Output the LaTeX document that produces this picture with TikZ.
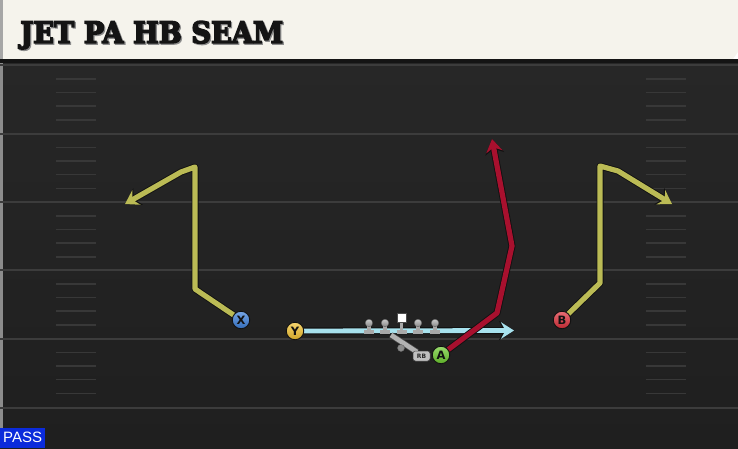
\documentclass[tikz,border=0pt]{standalone}
\usepackage{fontspec}
\setmainfont{DejaVu Sans}
\newfontfamily\titlefont{DejaVu Serif}[BoldFeatures={FakeBold=5}]
\newfontfamily\passfont{Liberation Sans}
\newfontfamily\plfont{DejaVu Sans}
\usetikzlibrary{arrows.meta}
\definecolor{fieldtop}{HTML}{272727}
\definecolor{fieldbot}{HTML}{1F1F1F}
\definecolor{yardc}{HTML}{3C3C3C}
\definecolor{hashc}{HTML}{383838}
\definecolor{headbg}{HTML}{F5F3EC}
\definecolor{passblue}{HTML}{0B2BDB}
\definecolor{routey}{HTML}{BBBB55}
\definecolor{router}{HTML}{A8102E}
\definecolor{routec}{HTML}{A8E2EE}
\definecolor{outl}{HTML}{111111}
\definecolor{pblue}{HTML}{3B7FDA}
\definecolor{pyellow}{HTML}{F2C230}
\definecolor{pred}{HTML}{DE2F3A}
\definecolor{pgreen}{HTML}{6CCB2E}
\definecolor{olgray}{HTML}{A8A8A8}
\pgfdeclarelayer{fieldlayer}
\pgfdeclarelayer{routelayer}
\pgfsetlayers{fieldlayer,routelayer,main}
\tikzset{
  yard/.style={draw=yardc, line width=2pt},
  hash/.style={draw=hashc, line width=1.8pt},
  player/.style={circle, draw=outl, line width=0.9pt, minimum size=17.5pt, inner sep=0pt,
    font=\plfont\bfseries\fontsize{11.5}{11.5}\selectfont, text=outl},
  under/.style={draw=outl, line width=7pt, line join=round, line cap=round},
  yroute/.style={draw=routey, line width=5.2pt, line join=round, line cap=round},
  rroute/.style={draw=router, line width=5.2pt, line join=round, line cap=round},
  croute/.style={draw=routec, line width=4.8pt, line join=round},
  bigtip/.style={-{Stealth[length=15pt,width=19pt,inset=5pt]}},
  smalltip/.style={-{Stealth[length=13pt,width=16.5pt,inset=4.5pt]}},
  helmet/.style={circle, top color=olgray!60!white, bottom color=olgray!80!black, draw=black!60, line width=0.4pt, minimum size=7.5pt, inner sep=0pt},
  stem/.style={draw=olgray, line width=3.5pt},
  bar/.style={draw=olgray, line width=3.5pt},
}
\begin{document}
\begin{tikzpicture}[x=1pt,y=-1pt]
\useasboundingbox (0,0) rectangle (738,448);
\begin{pgfonlayer}{fieldlayer}
  \shade[top color=fieldtop, bottom color=fieldbot] (0,60) rectangle (738,448);
  \fill[black!45] (0,60) rectangle (2.5,448);
  \foreach \y in {65,133.5,202,270,338.5,408} \draw[yard] (0,\y) -- (738,\y);
  \foreach \y in {65,133.5,202,270,338.5} {
    \foreach \d in {14,27.5,41,55} {
      \draw[hash] (56,\y+\d) -- (96,\y+\d);
      \draw[hash] (646,\y+\d) -- (686,\y+\d);
    }
  }
  % header
  \fill[headbg] (3,0) -- (738,0) -- (738,52) -- (733,59) -- (3,59) -- cycle;
  \fill[black!35] (0,0) rectangle (3,59);
  \fill[black!92] (0,59) rectangle (738,63);
\end{pgfonlayer}

\node[anchor=base west, inner sep=0pt, text=black!45] (titleshadow) at (21.2,44.2)
  {\resizebox{263pt}{22pt}{\titlefont\bfseries JET PA HB SEAM}};
\node[anchor=base west, inner sep=0pt, text=black!92] (title) at (20,43)
  {\resizebox{263pt}{22pt}{\titlefont\bfseries JET PA HB SEAM}};

% players
\node[player, top color=pblue!70!white, bottom color=pblue!85!black] (X) at (241,320) {X};
\node[player, top color=pyellow!70!white, bottom color=pyellow!85!black] (Y) at (295,331) {Y};
\node[player, top color=pred!70!white, bottom color=pred!85!black] (B) at (562,320) {B};
\node[player, top color=pgreen!70!white, bottom color=pgreen!85!black] (A) at (441,355) {A};

% free ends
\coordinate (xa) at (195,289);
\coordinate (xb) at (195,167);
\coordinate (xc) at (181,172);
\coordinate (xend) at (125,204);
\coordinate (ba) at (600,283);
\coordinate (bb) at (600,166);
\coordinate (bc) at (618,171);
\coordinate (bend) at (672,204);
\coordinate (aa) at (497,313);
\coordinate (ab) at (512,246);
\coordinate (aend) at (492,139);
\coordinate (yend) at (514,330.5);

\begin{pgfonlayer}{routelayer}
  % Y motion
  \draw[under, line cap=butt, bigtip] (Y) -- (yend);
  \draw[croute, smalltip] (Y) -- (yend);
  % linemen
  \foreach \i/\x in {1/369,2/385,4/418,5/435} {
    \draw[stem] (\x,325) -- (\x,331);
    \draw[bar] (\x-5,332) -- (\x+5,332);
  }
  \draw[stem] (401.5,320) -- (401.5,331);
  \draw[bar] (396.5,332) -- (406.5,332);
  % RB
  \draw[draw=black!70, line width=6pt] (391,335) -- (417,352);
  \draw[draw=black!30, line width=4.6pt] (391,335) -- (417,352);
  % X route
  \draw[under, bigtip] (X) -- (xa) -- (xb) -- (xc) -- (xend);
  \draw[yroute, smalltip] (X) -- (xa) -- (xb) -- (xc) -- (xend);
  % B route
  \draw[under, bigtip] (B) -- (ba) -- (bb) -- (bc) -- (bend);
  \draw[yroute, smalltip] (B) -- (ba) -- (bb) -- (bc) -- (bend);
  % A route
  \draw[under, bigtip] (A) -- (aa) -- (ab) -- (aend);
  \draw[rroute, smalltip] (A) -- (aa) -- (ab) -- (aend);
\end{pgfonlayer}

\foreach \i/\x in {1/369,2/385,4/418,5/435} \node[helmet] (l\i) at (\x,323) {};
\node[draw=black!70, fill=white, line width=0.5pt, minimum size=8.5pt, inner sep=0pt] (l3) at (401.5,317.5) {};
\node[circle, fill=black!45, draw=black!60, line width=0.4pt, minimum size=7pt, inner sep=0pt] (rbdot) at (401,348) {};
\node[rounded corners=2.5pt, fill=black!25, draw=black!70, line width=0.5pt, minimum width=17pt,
  minimum height=10pt, inner sep=0pt, font=\plfont\bfseries\fontsize{6}{6}\selectfont, text=black!85]
  (rb) at (421.5,356) {RB};

\node[fill=passblue, text=white, anchor=south west, minimum width=45pt, minimum height=20pt,
  inner sep=0pt, font=\passfont\fontsize{15}{15}\selectfont] (pass) at (0,448) {PASS};
\end{tikzpicture}
\end{document}
